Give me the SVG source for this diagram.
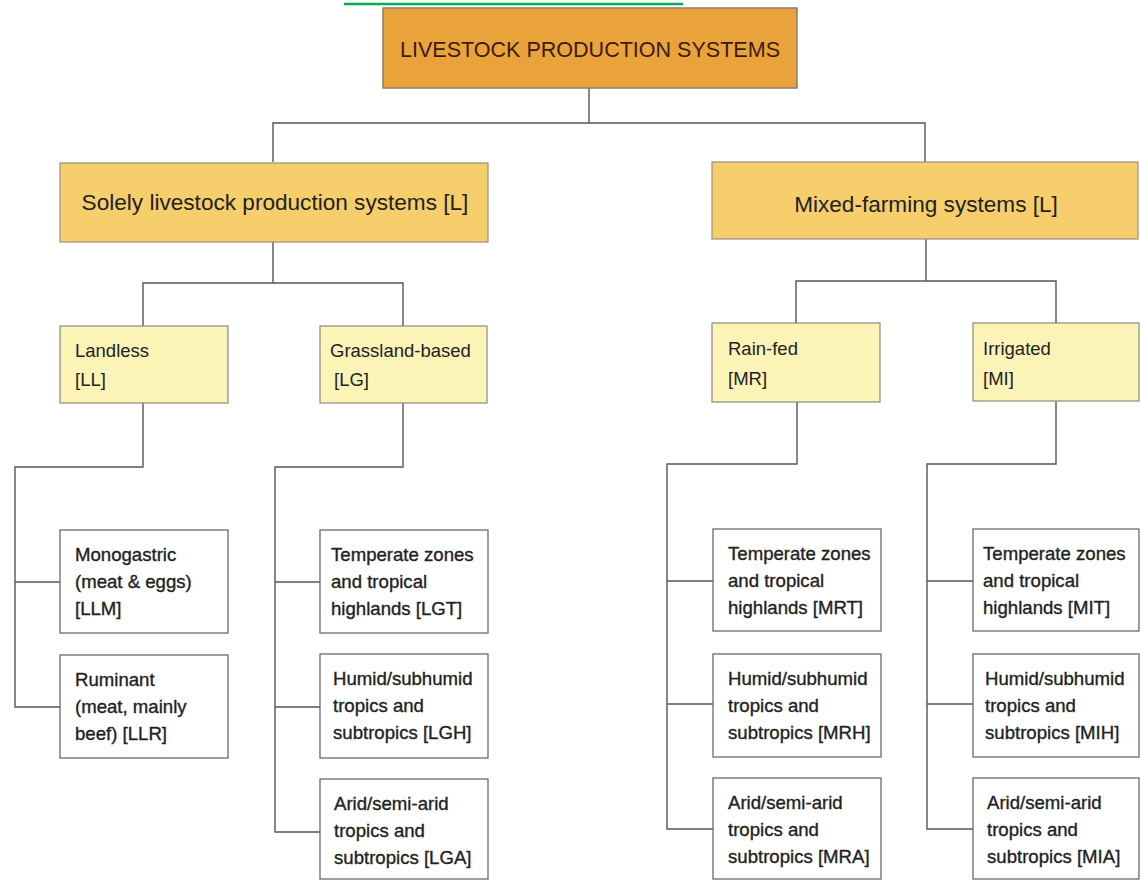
<svg xmlns="http://www.w3.org/2000/svg" width="1140" height="881" viewBox="0 0 1140 881">
<style>
text{font-family:"Liberation Sans",Arial,sans-serif;fill:#222}
.l1{fill:#E9A33A;stroke:#8c7d66;stroke-width:1.5}
.l2{fill:#F6CE6C;stroke:#9a9080;stroke-width:1.2}
.l3{fill:#FCF4B6;stroke:#8a8a80;stroke-width:1.2}
.l4{fill:#ffffff;stroke:#6a6a6a;stroke-width:1.3}
.t1{font-size:22px;fill:#3d1a0e}
.t2{font-size:22.6px}
.t3{font-size:18.5px}
.t4{font-size:18.6px;stroke:#222;stroke-width:0.35}
.c{fill:none;stroke:#555;stroke-width:1.4}
</style>
<rect width="1140" height="881" fill="#ffffff"/>
<line x1="344" y1="4" x2="683" y2="4" stroke="#00b050" stroke-width="2.5"/>
<g id="connectors" class="c">
<path d="M589 88V123M273 162V123H925V162"/>
<path d="M273 242V283M143 326V283H403V326"/>
<path d="M926 239V281M796 323V281H1056V323"/>
<path d="M143 403V467H15V707H60M15 582H60"/>
<path d="M403 403V467H275V832H320M275 582H320M275 707H320"/>
<path d="M797 402V464H667V829H713M667 581H713M667 704H713"/>
<path d="M1056 401V464H927V829H973M927 581H973M927 704H973"/>
</g>
<g id="n-root"><rect class="l1" x="383" y="8" width="414" height="80"/><text class="t1" x="590" y="57" text-anchor="middle" textLength="380" lengthAdjust="spacingAndGlyphs">LIVESTOCK PRODUCTION SYSTEMS</text></g>
<g id="n-solely"><rect class="l2" x="60" y="163" width="428" height="79"/><text class="t2" x="275" y="210" text-anchor="middle">Solely livestock production systems [L]</text></g>
<g id="n-mixed"><rect class="l2" x="712" y="162" width="426" height="77"/><text class="t2" x="926" y="212" text-anchor="middle">Mixed-farming systems [L]</text></g>
<g id="n-LL"><rect class="l3" x="60" y="326" width="168" height="77"/><text class="t3" x="75" y="357">Landless</text><text class="t3" x="75" y="386">[LL]</text></g>
<g id="n-LG"><rect class="l3" x="320" y="326" width="167" height="77"/><text class="t3" x="330" y="357">Grassland-based</text><text class="t3" x="334" y="386">[LG]</text></g>
<g id="n-MR"><rect class="l3" x="712" y="323" width="168" height="79"/><text class="t3" x="728" y="355">Rain-fed</text><text class="t3" x="728" y="385">[MR]</text></g>
<g id="n-MI"><rect class="l3" x="973" y="323" width="166" height="78"/><text class="t3" x="983" y="355">Irrigated</text><text class="t3" x="983" y="385">[MI]</text></g>
<g id="n-LLM"><rect class="l4" x="60" y="530" width="168" height="103"/><text class="t4" x="75" y="561">Monogastric</text><text class="t4" x="75" y="588">(meat &amp; eggs)</text><text class="t4" x="75" y="615">[LLM]</text></g>
<g id="n-LLR"><rect class="l4" x="60" y="655" width="168" height="103"/><text class="t4" x="75" y="686">Ruminant</text><text class="t4" x="75" y="713">(meat, mainly</text><text class="t4" x="75" y="740">beef) [LLR]</text></g>
<g id="n-LGT"><rect class="l4" x="320" y="530" width="168" height="103"/><text class="t4" x="331" y="561">Temperate zones</text><text class="t4" x="331" y="588">and tropical</text><text class="t4" x="331" y="615">highlands [LGT]</text></g>
<g id="n-LGH"><rect class="l4" x="320" y="654" width="168" height="104"/><text class="t4" x="333" y="685">Humid/subhumid</text><text class="t4" x="333" y="712">tropics and</text><text class="t4" x="333" y="739">subtropics [LGH]</text></g>
<g id="n-LGA"><rect class="l4" x="320" y="779" width="168" height="100"/><text class="t4" x="334" y="810">Arid/semi-arid</text><text class="t4" x="334" y="837">tropics and</text><text class="t4" x="334" y="864">subtropics [LGA]</text></g>
<g id="n-MRT"><rect class="l4" x="713" y="529" width="168" height="102"/><text class="t4" x="728" y="560">Temperate zones</text><text class="t4" x="728" y="587">and tropical</text><text class="t4" x="728" y="614">highlands [MRT]</text></g>
<g id="n-MRH"><rect class="l4" x="713" y="654" width="168" height="103"/><text class="t4" x="728" y="685">Humid/subhumid</text><text class="t4" x="728" y="712">tropics and</text><text class="t4" x="728" y="739">subtropics [MRH]</text></g>
<g id="n-MRA"><rect class="l4" x="713" y="778" width="168" height="101"/><text class="t4" x="728" y="809">Arid/semi-arid</text><text class="t4" x="728" y="836">tropics and</text><text class="t4" x="728" y="863">subtropics [MRA]</text></g>
<g id="n-MIT"><rect class="l4" x="973" y="529" width="166" height="102"/><text class="t4" x="983" y="560">Temperate zones</text><text class="t4" x="983" y="587">and tropical</text><text class="t4" x="983" y="614">highlands [MIT]</text></g>
<g id="n-MIH"><rect class="l4" x="973" y="654" width="166" height="103"/><text class="t4" x="985" y="685">Humid/subhumid</text><text class="t4" x="985" y="712">tropics and</text><text class="t4" x="985" y="739">subtropics [MIH]</text></g>
<g id="n-MIA"><rect class="l4" x="973" y="778" width="166" height="101"/><text class="t4" x="987" y="809">Arid/semi-arid</text><text class="t4" x="987" y="836">tropics and</text><text class="t4" x="987" y="863">subtropics [MIA]</text></g>
</svg>
